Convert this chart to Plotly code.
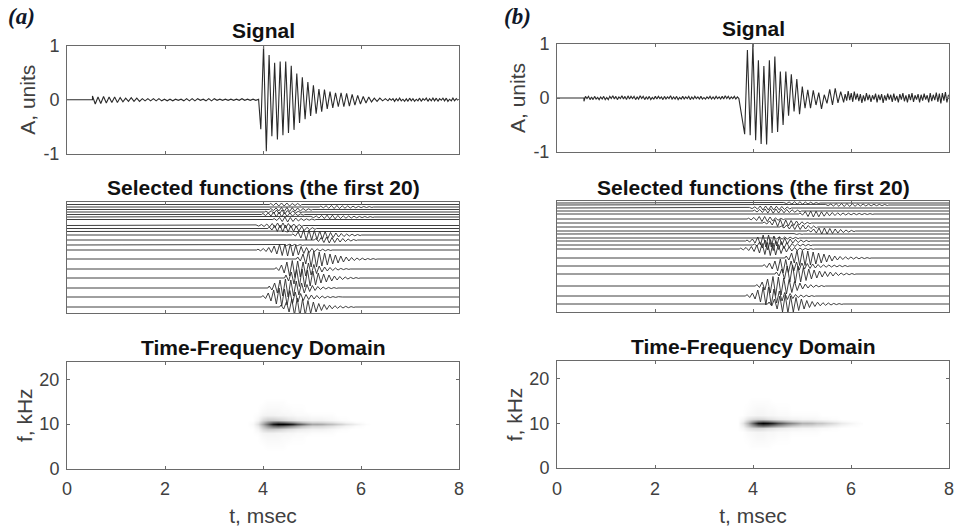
import plotly.graph_objects as go

W, H = 956, 530

# ---------- Signal (a): alternating extreme values ----------
sig_a_pre_start, sig_a_pre_step = 0.52, 0.0565
sig_a_pre = [0.07,-0.08,0.05,-0.07,0.06,-0.06,0.05,-0.05,0.05,-0.05,0.04,-0.04,0.03,-0.03,0.04,-0.03,
             0.03,-0.03,0.02,-0.02,0.02,-0.02,0.02,-0.02,0.02,-0.02,0.01,-0.02,0.01,-0.02,0.01,-0.01,
             0.01,-0.02,0.02,-0.02,0.02,-0.02,0.02,-0.01,0.01,-0.02,0.02,-0.02,0.02,-0.01,0.01,-0.01,
             0.01,-0.01,0.01,-0.01,0.01,-0.01,0.02,-0.01,0.01,-0.01,0.01,-0.01,0.01]
sig_a_burst_start, sig_a_burst_step = 3.955, 0.0565
sig_a_burst = [-0.55,1.0,-0.96,0.83,-0.68,0.69,-0.74,0.71,-0.66,0.71,-0.62,0.63,-0.56,0.49,-0.43,0.42,
               -0.36,0.33,-0.30,0.27,-0.26,0.20,-0.22,0.19,-0.17,0.15,-0.15,0.13,-0.13,0.13,-0.13,0.12,
               -0.12,0.10,-0.10,0.08,-0.08,0.06,-0.06,0.05,-0.04,0.03,-0.03,0.03,-0.02,0.02]
sig_a_tail_start, sig_a_tail_step = 6.55, 0.034
sig_a_tail = [-0.02,0.02,-0.01,0.02,-0.03,0.02,-0.02,0.03,-0.02,0.01,-0.03,0.02,-0.03,0.03,-0.02,0.02,
              -0.03,0.01,-0.02,0.03,-0.03,0.02,-0.01,0.03,-0.03,0.02,-0.02,0.03,-0.02,0.03,-0.03,0.02,
              -0.01,0.03,-0.02,0.03,-0.03,0.01,-0.02,0.03,-0.02,0.02,-0.01]

# ---------- Signal (b) ----------
sig_b_pre_start, sig_b_pre_step = 0.55, 0.031
sig_b_pre = [-0.06,0.03,-0.01,0.03,-0.03,0.02,-0.03,0.03,-0.02,0.01,-0.03,0.02,-0.02,0.03,-0.03,0.01,
             -0.03,0.03,-0.01,0.04,-0.02,0.03,-0.03,0.02,-0.01,0.04,-0.02,0.03,-0.03,0.04,-0.02,0.03,
             -0.01,0.03,-0.03,0.02,-0.02,0.04,-0.01,0.03,-0.03,0.02,-0.02,0.03,-0.03,0.01,-0.02,0.03,
             -0.02,0.03,-0.01,0.02,-0.03,0.03,-0.02,0.02,-0.01,0.04,-0.02,0.02,-0.02,0.03,-0.03,0.01,
             -0.02,0.03,-0.02,0.02,-0.01,0.03,-0.03,0.02,-0.02,0.03,-0.01,0.02,-0.02,0.03,-0.02,0.01,
             -0.02,0.02,-0.01,0.03,-0.02,0.02,-0.02,0.03,-0.01,0.02,-0.02,0.03,-0.02,0.04,-0.01,0.03,
             -0.02,0.02,-0.01,0.03,-0.02,0.02,-0.01]
sig_b_burst_start, sig_b_burst_step = 3.83, 0.056
sig_b_burst = [-0.67,0.89,-0.69,1.0,-0.78,0.70,-0.85,0.59,-0.86,0.70,-0.65,0.77,-0.63,0.49,-0.50,0.49,
               -0.33,0.44,-0.25,0.35,-0.30,0.21,-0.19,0.15,-0.19,0.14,-0.13,0.10,-0.20,0.06,-0.10,0.16,
               -0.13,0.18,-0.09,0.12]
sig_b_tail_start, sig_b_tail_step = 5.85, 0.031
sig_b_tail = [-0.08,0.07,-0.05,0.13,-0.04,0.09,-0.07,0.12,-0.03,0.08,-0.06,0.07,-0.09,0.05,-0.06,0.09,
              -0.04,0.06,-0.07,0.05,-0.03,0.08,-0.08,0.06,-0.04,0.07,-0.09,0.05,-0.05,0.08,-0.03,0.06,
              -0.07,0.08,-0.05,0.04,-0.08,0.07,-0.03,0.09,-0.06,0.05,-0.08,0.07,-0.04,0.09,-0.07,0.05,
              -0.03,0.07,-0.08,0.06,-0.05,0.08,-0.03,0.05,-0.08,0.09,-0.06,0.06,-0.04,0.10,-0.07,0.08,
              -0.10,0.09,-0.05,0.11,-0.08,0.06]

# ---------- Selected functions: baseline level, onset (ms), amplitude of each cycle ----------
fn_cycle = 0.11
fn_a_levels = [108.5,106,103.5,101,98.5,96,93.5,87.5,84.5,81.5,78,73,68,63,54,44,35,25,16,6]
fn_a_starts = [4.13,5.15,4.13,4.03,3.97,4.95,4.2,3.83,4.1,4.3,4.58,5.05,4.4,3.87,4.68,4.24,4.44,4.1,3.97,4.34]
fn_a_amps = [
    [1,1.5,1.5,1.5,1,1],
    [.8,1.2,1.5,1.5,1.2,1,.8,.6,.5,.4],
    [1,1.5,2,2,1.8,1.5,1,.6],
    [.8,1.2,2,2,1.5,1,.6],
    [1,1.5,2.5,2.5,2,1.5,1,.6],
    [.6,1,1.5,1.8,1.8,1.5,1.2,1,.8,.6,.5,.4],
    [1,2,2.5,2,1.5,1,.7,.5],
    [.6,1,1.5,2,2.5,2.5,2,1.5,1],
    [1.5,3,3.5,3.5,3,2.5,2,1.2,.8],
    [.3,.4,.3],
    [1,3,5,5,4.5,4,3.5,2.5,2,1.5,1,.8,.5],
    [1.5,2.5,3,2.5,2,1.5,1,.5],
    [.5,.7,.6,.4],
    [.8,1.5,2.5,4,5.5,6,6,5,3.5,2.5,1.5,1,.8,.5],
    [2,5,8,8,7,6,5,4,3,2,1.5,1,.8,.5,.4],
    [1.5,4,7,8.5,8,7,6,4.5,3,2,1.5,1,.6,.4],
    [3,6,8.5,9,8,7,5,4,3,2,1.5,1,.6,.4],
    [2,5,8,9,8,7,5,3.5,2.5,1.5,1,.6,.4],
    [1.5,4,7,9,8,6.5,5,3.5,2.5,2,1.5,1,.6,.4,.3],
    [2,5,8,9,8,6.5,5,3.5,2.5,1.8,1.3,1,.7,.4],
]
fn_b_levels = [109,107,104,101,98,93,89,85,81,78,74,71,67,63,54,46,38,26,16,8]
fn_b_starts = [4.6,5.45,3.9,4.0,4.93,3.88,4.2,4.55,5.1,4.7,4.4,3.85,4.0,3.72,4.65,4.2,4.45,4.05,3.85,4.3]
fn_b_amps = [
    [.5,1,1.2,1.2,1,.8,.5],
    [.6,1,1.3,1.5,1.5,1.3,1,1,.8,.7,.6,.5],
    [.6,1.2,2,2,2,1.8,1.5,1],
    [1,1.5,2,2.2,2,1.8,1.5,1.2,.8],
    [1,2.5,3,2.8,2.2,1.8,1.5,1.2,1,.8,.7,.6,.5,.4],
    [.8,1.5,2.5,2.5,2,1.2,.6],
    [1,2,3.5,3.5,3,2.5,2,1.2,.6],
    [1,2,2.5,2.5,2,1.5,1],
    [1,2,3,3,2.5,2,1.5,1,.6],
    [.3,.4,.3],
    [1,1.2,1,.8,.6],
    [1,2,4,6,6,5,4,3,2,1.5,1,.6],
    [1,3,5,5.5,4.5,3.5,2.5,1.5,1,.8,.6],
    [.8,1.5,2.5,4,5.5,6.5,6,4.5,3,2,1.5,1,.6,.4],
    [2,5,7.5,7.5,7,6,5,4,3,2,1.5,1.2,1,.8,.6,.4],
    [1.5,3,5,7,6.5,5,4,3,2.5,2,1.5,1.2,1,.8,.7,.5],
    [2,5,8,9,8,6.5,5,4,3,2.5,2,1.5,1,.7,.5],
    [1.5,4,7,9.5,9,8,6.5,4.5,3,2,1.3,.8,.5],
    [1.5,3,6,9,9,7,5,3.5,2.5,1.5,1,.7,.4],
    [2,5,8,9,8,6.5,5,3.5,2.5,1.8,1.3,1,.6,.4],
]

# ---------- Time-frequency energy ----------
tf_t = [3.7,3.8,3.9,4.0,4.1,4.2,4.3,4.4,4.5,4.6,4.7,4.8,4.9,5.0,5.1,5.2,5.3,5.4,5.5,5.6,5.7,5.8,5.9,6.0,6.1,6.2]
tf_f = [0,4,5,7,8,9,9.5,10,10.5,11,12,13,15,16,24]
tf_a_r0  = [0,.02,.12,.35,.6,.88,1,1,.95,.85,.7,.58,.45,.35,.35,.33,.28,.25,.2,.16,.12,.09,.06,.03,.01,0]
tf_a_r05 = [0,.01,.08,.25,.42,.55,.6,.55,.48,.4,.33,.25,.2,.16,.16,.15,.13,.11,.08,.06,.04,.03,.01,.01,0,0]
tf_a_r1  = [0,0,.04,.14,.2,.2,.18,.15,.12,.1,.08,.07,.06,.05,.05,.05,.04,.03,.02,.01,.01,0,0,0,0,0]
tf_a_r2  = [0,0,.01,.04,.05,.05,.04,.04,.03,.03,.02,.02,.02,.01,.01,.01,.01,.01,0,0,0,0,0,0,0,0]
tf_a_r3  = [0,0,0,.02,.03,.03,.03,.02,.02,.01,.01,.01,0,0,0,0,0,0,0,0,0,0,0,0,0,0]
tf_a_r5  = [0,0,0,0,.01,.01,.01,.01,0,0,0,0,0,0,0,0,0,0,0,0,0,0,0,0,0,0]
tf_b_r0  = [0,.1,.3,.6,.9,1,.95,.85,.7,.6,.52,.45,.38,.3,.3,.28,.23,.22,.18,.15,.12,.08,.06,.04,.02,.01]
tf_b_r05 = [0,.06,.2,.36,.5,.55,.5,.42,.35,.3,.25,.2,.17,.14,.14,.13,.11,.1,.08,.06,.05,.03,.02,.01,.01,0]
tf_b_r1  = [0,.03,.1,.14,.16,.15,.12,.1,.08,.07,.06,.05,.05,.04,.04,.04,.03,.02,.02,.01,.01,0,0,0,0,0]
tf_b_r2  = [0,0,.02,.03,.04,.04,.03,.03,.02,.02,.02,.01,.01,.01,.01,.01,.01,0,0,0,0,0,0,0,0,0]
tf_b_r3  = [0,0,.01,.02,.03,.03,.02,.02,.01,.01,.01,0,0,0,0,0,0,0,0,0,0,0,0,0,0,0]
tf_b_r5  = [0,0,0,.01,.01,.01,.01,0,0,0,0,0,0,0,0,0,0,0,0,0,0,0,0,0,0,0]
tf_zero = [0] * len(tf_t)
tf_a_z = [tf_zero,tf_zero,tf_a_r5,tf_a_r3,tf_a_r2,tf_a_r1,tf_a_r05,tf_a_r0,tf_a_r05,tf_a_r1,tf_a_r2,tf_a_r3,tf_a_r5,tf_zero,tf_zero]
tf_b_z = [tf_zero,tf_zero,tf_b_r5,tf_b_r3,tf_b_r2,tf_b_r1,tf_b_r05,tf_b_r0,tf_b_r05,tf_b_r1,tf_b_r2,tf_b_r3,tf_b_r5,tf_zero,tf_zero]

x_ticks = [0, 2, 4, 6, 8]
tick_col = "#404040"
frame_col = "#6a6a6a"
line_col = "#2a2a2a"
FONT = "Liberation Sans"
TICK_SIZE = 18
LABEL_SIZE = 21
TITLE_SIZE = 21

fig = go.Figure()


def seq(start, step, n):
    return [start + i * step for i in range(n)]


def signal_trace(parts, ax):
    xs, ys = [0.0, parts[0][0]], [0.0, 0.0]
    for start, step, vals in parts:
        xs += seq(start, step, len(vals))
        ys += vals
    fig.add_trace(go.Scatter(x=xs, y=ys, mode="lines", xaxis=f"x{ax}", yaxis=f"y{ax}",
                             line=dict(color=line_col, width=1.1), showlegend=False, hoverinfo="skip"))


def fn_traces(levels, starts, amps, ax):
    for lev, st, am in zip(levels, starts, amps):
        half = fn_cycle / 2
        xs, ys = [0.0, st], [lev, lev]
        for i, a in enumerate(am):
            xs += [st + (2 * i + 0.5) * half, st + (2 * i + 1.5) * half]
            ys += [lev + a, lev - a]
        xs += [st + len(am) * fn_cycle, 8.0]
        ys += [lev, lev]
        fig.add_trace(go.Scatter(x=xs, y=ys, mode="lines", xaxis=f"x{ax}", yaxis=f"y{ax}",
                                 line=dict(color=line_col, width=0.9), showlegend=False, hoverinfo="skip"))


signal_trace([(sig_a_pre_start, sig_a_pre_step, sig_a_pre),
              (sig_a_burst_start, sig_a_burst_step, sig_a_burst),
              (sig_a_tail_start, sig_a_tail_step, sig_a_tail)], 1)
fn_traces(fn_a_levels, fn_a_starts, fn_a_amps, 2)
signal_trace([(sig_b_pre_start, sig_b_pre_step, sig_b_pre),
              (sig_b_burst_start, sig_b_burst_step, sig_b_burst),
              (sig_b_tail_start, sig_b_tail_step, sig_b_tail)], 4)
fn_traces(fn_b_levels, fn_b_starts, fn_b_amps, 5)

grey = [[0, "#ffffff"], [1, "#000000"]]
for z, ax in ((tf_a_z, 3), (tf_b_z, 6)):
    fig.add_trace(go.Heatmap(x=tf_t, y=tf_f, z=z, zmin=0, zmax=1, colorscale=grey, zsmooth="best",
                             showscale=False, xaxis=f"x{ax}", yaxis=f"y{ax}", hoverinfo="skip"))

layout = dict(width=W, height=H, margin=dict(l=0, r=0, t=0, b=0, autoexpand=False), paper_bgcolor="white",
              plot_bgcolor="white", showlegend=False, font=dict(family=FONT, color=tick_col))

# pixel boxes of each panel: x0, x1, top, bottom
panels = {
    1: (67, 459, 46, 153.5), 2: (67, 459, 202, 313), 3: (67, 459, 362, 468.5),
    4: (557, 949, 44, 152), 5: (557, 949, 201, 312), 6: (557, 949, 361, 468),
}
for ax, (x0, x1, top, bot) in panels.items():
    xa = dict(domain=[x0 / W, x1 / W], range=[0, 8], tickvals=x_ticks, ticks="inside", ticklen=3,
              tickcolor=frame_col, tickwidth=1, showline=True, linecolor=frame_col, linewidth=1,
              mirror="ticks", showgrid=False, zeroline=False, anchor=f"y{ax}", layer="above traces",
              ticklabelstandoff=4)
    ya = dict(domain=[1 - bot / H, 1 - top / H], ticks="inside", ticklen=3, tickcolor=frame_col, tickwidth=1,
              showline=True, linecolor=frame_col, linewidth=1, mirror="ticks", showgrid=False,
              zeroline=False, anchor=f"x{ax}", layer="above traces", ticklabelstandoff=3,
              tickfont=dict(size=TICK_SIZE, color=tick_col, family=FONT),
              title_font=dict(size=LABEL_SIZE, color=tick_col, family=FONT))
    xa["tickfont"] = dict(size=TICK_SIZE, color=tick_col, family=FONT)
    xa["title_font"] = dict(size=LABEL_SIZE, color=tick_col, family=FONT)
    kind = (ax - 1) % 3
    if kind == 0:
        xa["showticklabels"] = False
        ya.update(range=[-1, 1], tickvals=[-1, 0, 1], ticktext=["-1", "0", "1"])
        ya["title"] = dict(text="A, units", standoff=2)
    elif kind == 1:
        xa["showticklabels"] = False
        ya.update(range=[0, 111], tickvals=[], showticklabels=False)
    else:
        xa["title"] = dict(text="t, msec", standoff=10)
        ya.update(range=[0, 24], tickvals=[0, 10, 20])
        ya["title"] = dict(text="f, kHz", standoff=1)
    layout[f"xaxis{ax}"] = xa
    layout[f"yaxis{ax}"] = ya

fig.update_layout(**layout)

titles = [(263, 31, "Signal"), (263, 188, "Selected functions (the first 20)"), (263, 347, "Time-Frequency Domain"),
          (753, 29, "Signal"), (753, 187, "Selected functions (the first 20)"), (753, 346, "Time-Frequency Domain")]
for x, y, text in titles:
    fig.add_annotation(x=x / W, y=1 - y / H, xref="paper", yref="paper", text=f"<b>{text}</b>", showarrow=False,
                       xanchor="center", yanchor="middle", font=dict(size=TITLE_SIZE, color="#111111", family=FONT))
for x, y, text in [(6, 17, "(a)"), (502, 17, "(b)")]:
    fig.add_annotation(x=x / W, y=1 - y / H, xref="paper", yref="paper", text=f"<b><i>{text}</i></b>", showarrow=False,
                       xanchor="left", yanchor="middle", font=dict(size=23, color="#10182a", family="Liberation Serif"))

fig.write_html("out.html", config=dict(displayModeBar=False), post_script="document.body.style.margin='0';document.body.style.overflow='hidden';")
